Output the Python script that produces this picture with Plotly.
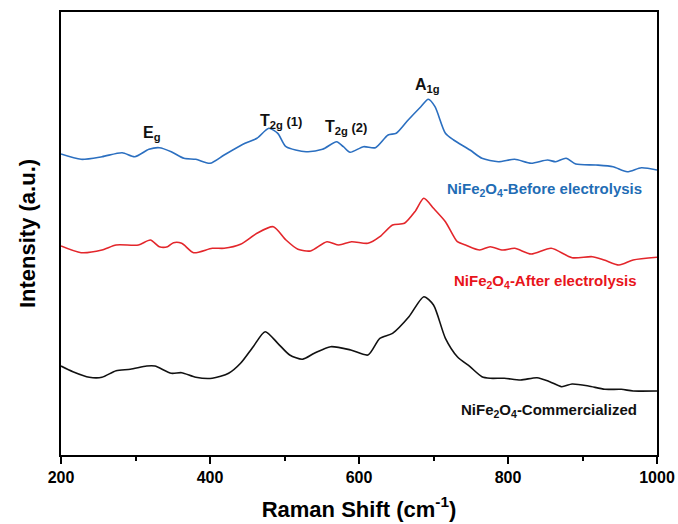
import plotly.graph_objects as go

# Raman shift positions (cm^-1) and stacked intensities (a.u., offset as in the figure)
x_before = [200, 227, 255, 282, 299, 318, 332, 348, 365, 381, 400, 419, 447, 463, 479, 491, 502, 529, 551, 570, 579, 588, 606, 622, 639, 650, 666, 683, 693, 702, 716, 727, 749, 765, 787, 809, 831, 853, 864, 878, 891, 918, 941, 960, 979, 1000]
y_before = [301, 295.7, 298.3, 302.3, 298.3, 305.7, 307.3, 303.3, 296.7, 295.7, 291.7, 300, 311.7, 316.7, 326.7, 321.7, 308.3, 303.3, 305.7, 313.3, 308.3, 302.7, 308.3, 307.3, 320, 321.7, 335, 348.3, 355.7, 348.3, 321.7, 315, 305, 296.7, 293.3, 295.7, 291.7, 295, 293.3, 296.7, 291, 290, 288.3, 283.3, 287.3, 285]

x_after = [200, 227, 255, 274, 304, 320, 332, 343, 351, 362, 378, 403, 419, 441, 463, 485, 502, 518, 535, 557, 573, 590, 612, 628, 645, 661, 675, 687, 700, 716, 732, 743, 762, 776, 793, 809, 831, 858, 886, 913, 929, 949, 968, 1000]
y_after = [209, 202.3, 205, 210, 210, 215, 208.3, 208.3, 212.3, 211.7, 202.3, 206.7, 206.7, 210.7, 221.7, 228.3, 215, 205.7, 204, 213.3, 210, 213.3, 211.7, 218.3, 230, 231.7, 243.3, 256.7, 246.7, 233.3, 213.3, 210, 205, 208.3, 205, 206.7, 201, 206.7, 197.3, 198.3, 195, 190, 195, 197.7]

x_comm = [200, 216, 238, 255, 274, 293, 315, 326, 348, 362, 381, 403, 425, 441, 458, 474, 491, 507, 524, 540, 562, 589, 612, 628, 645, 667, 687, 700, 716, 732, 749, 765, 776, 795, 817, 839, 856, 872, 886, 908, 930, 952, 968, 1000]
y_comm = [89, 83.3, 77.7, 77.7, 84.3, 85.7, 89, 89, 81.7, 82.3, 77.7, 76.7, 81.7, 91.7, 108.3, 123.3, 111.7, 100, 95.7, 101.7, 108.3, 105, 100, 116.7, 121.7, 138.3, 158.3, 150, 116.7, 98.3, 88.3, 78.3, 76.7, 76.7, 75, 77.3, 73.3, 68.3, 71, 69, 65.7, 65.7, 64, 64]

peak_labels = ["E<sub>g</sub>", "T<sub>2g</sub><span style='font-size:13px'> (1)</span>",
               "T<sub>2g</sub><span style='font-size:13px'> (2)</span>", "A<sub>1g</sub>"]
peak_x = [322, 495, 582, 692]
peak_y = [322, 334, 328, 370]

series_names = ["NiFe<sub>2</sub>O<sub>4</sub>-Before electrolysis",
                "NiFe<sub>2</sub>O<sub>4</sub>-After electrolysis",
                "NiFe<sub>2</sub>O<sub>4</sub>-Commercialized"]
series_colors = ["#2b6fc0", "#e3262b", "#111111"]
name_x = [982, 976, 976]
name_y = [266, 174, 45]

x_ticks = [200, 400, 600, 800, 1000]
x_tick_text = ["200", "400", "600", "800", "1000"]

fig = go.Figure()
for xs, ys, c in [(x_before, y_before, series_colors[0]),
                  (x_after, y_after, series_colors[1]),
                  (x_comm, y_comm, series_colors[2])]:
    fig.add_trace(go.Scatter(x=xs, y=ys, mode="lines",
                             line=dict(color=c, width=1.6, shape="spline", smoothing=0.7),
                             showlegend=False, hoverinfo="skip"))

font = "Arial, Liberation Sans, sans-serif"
for t, xv, yv in zip(peak_labels, peak_x, peak_y):
    fig.add_annotation(x=xv, y=yv, text="<b>" + t + "</b>", showarrow=False,
                       font=dict(family=font, size=16, color="#111111"))
text_colors = ["#1f6db5", "#e8141b", "#111111"]
for t, xv, yv, c in zip(series_names, name_x, name_y, text_colors):
    fig.add_annotation(x=xv, y=yv, text="<b>" + t + "</b>", showarrow=False,
                       xanchor="right", font=dict(family=font, size=15, color=c))

fig.update_layout(
    width=678, height=524,
    margin=dict(l=61, r=21, t=12, b=69),
    paper_bgcolor="white", plot_bgcolor="white",
    font=dict(family=font, color="black"),
    xaxis=dict(range=[200, 1000], tickvals=x_ticks,
               ticktext=["<b>" + t + "</b>" for t in x_tick_text],
               ticks="outside", ticklen=7, tickwidth=2, automargin=False,
               tickcolor="black", showline=True, linewidth=2, linecolor="black", mirror=True,
               showgrid=False, zeroline=False,
               tickfont=dict(family=font, size=16, color="black"),
               title=dict(text="<b>Raman Shift (cm<sup>-1</sup>)</b>",
                          font=dict(family=font, size=22), standoff=16),
               minor=dict(tickvals=[300, 500, 700, 900], ticks="outside", ticklen=4,
                          tickwidth=2, tickcolor="black")),
    yaxis=dict(range=[0, 443], showticklabels=False, ticks="", showline=True, linewidth=2,
               linecolor="black", mirror=True, showgrid=False, zeroline=False, automargin=False,
               title=dict(text="<b>Intensity (a.u.)</b>", font=dict(family=font, size=22),
                          standoff=17)),
)

fig.write_html("out.html", config={"displayModeBar": False},
               post_script="document.body.style.margin='0';document.body.style.overflow='hidden';")
